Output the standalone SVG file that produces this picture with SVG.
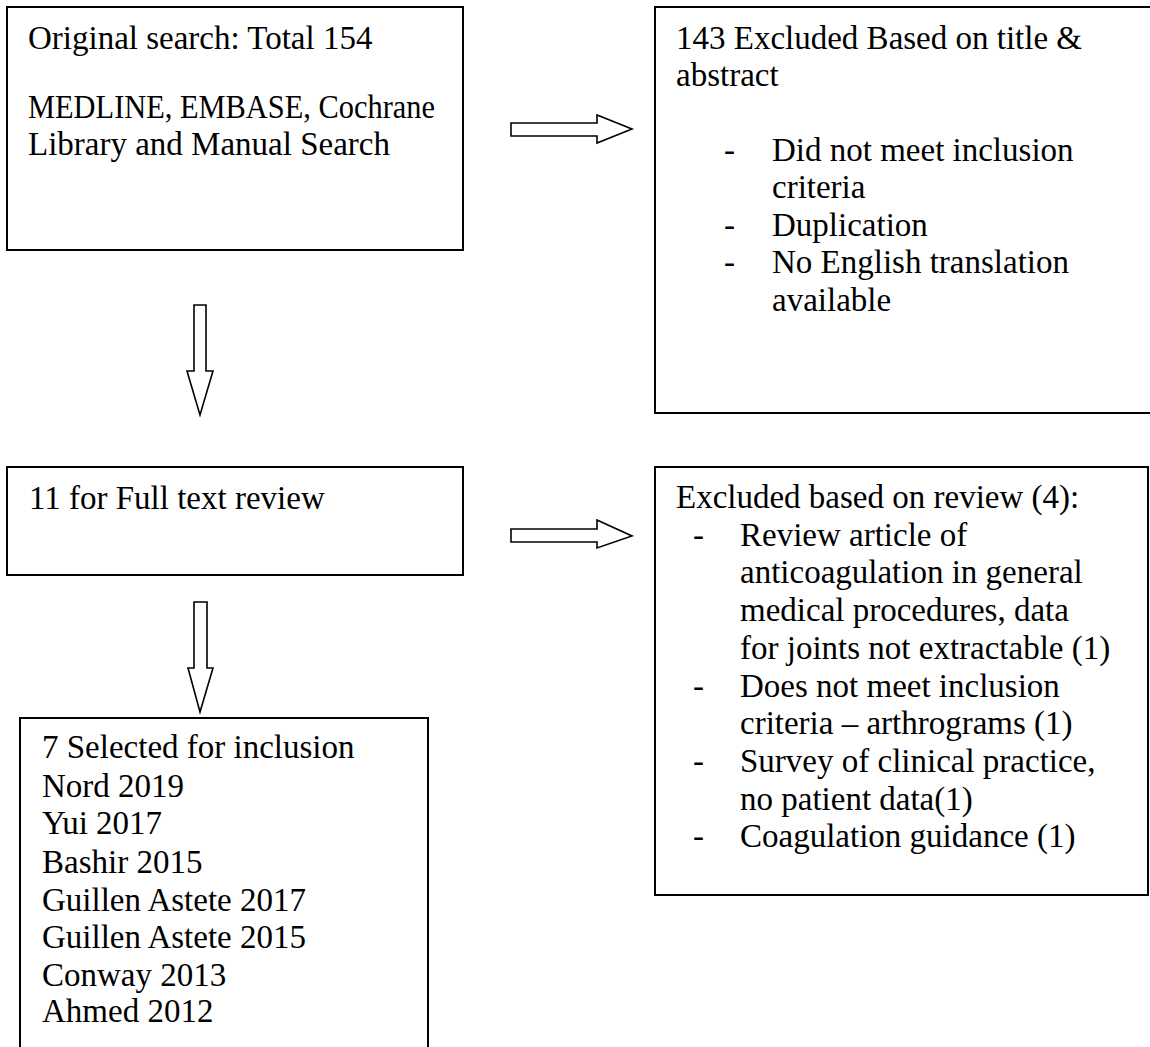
<svg xmlns="http://www.w3.org/2000/svg" width="1150" height="1047" viewBox="0 0 1150 1047">
<style>
.box{fill:#fff;stroke:#000;stroke-width:2}
.arr{fill:#fff;stroke:#000;stroke-width:1.6;stroke-linejoin:miter}
text{font-family:"Liberation Serif","Times New Roman",serif;font-size:33px;fill:#000}
</style>
<rect width="1150" height="1047" fill="#fff"/>
<g id="connectors">
<polygon class="arr" points="511,123 597,123 597,115 632,129 597,143 597,136 511,136"/>
<polygon class="arr" points="194,305 206,305 206,371 213,371 200,415 187,371 194,371"/>
<polygon class="arr" points="511,529 597,529 597,520 632,536 597,548 597,542 511,542"/>
<polygon class="arr" points="194,602 207,602 207,668 213,668 200,712 188,668 194,668"/>
</g>
<g id="n1">
<rect class="box" x="7" y="7" width="456" height="243"/>
<text x="28" y="49">Original search: Total 154</text>
<text x="28" y="118" textLength="407" lengthAdjust="spacingAndGlyphs">MEDLINE, EMBASE, Cochrane</text>
<text x="28" y="155">Library and Manual Search</text>
</g>
<g id="n2">
<rect class="box" x="655" y="7" width="500" height="406"/>
<text x="676" y="49">143 Excluded Based on title &amp;</text>
<text x="676" y="86">abstract</text>
<text x="724" y="161">-</text><text x="772" y="161">Did not meet inclusion</text>
<text x="772" y="198">criteria</text>
<text x="724" y="236">-</text><text x="772" y="236">Duplication</text>
<text x="724" y="273">-</text><text x="772" y="273">No English translation</text>
<text x="772" y="311">available</text>
</g>
<g id="n3">
<rect class="box" x="7" y="467" width="456" height="108"/>
<text x="29" y="509">11 for Full text review</text>
</g>
<g id="n4">
<rect class="box" x="655" y="467" width="493" height="428"/>
<text x="676" y="508">Excluded based on review (4):</text>
<text x="693" y="546">-</text><text x="740" y="546">Review article of</text>
<text x="740" y="583">anticoagulation in general</text>
<text x="740" y="621">medical procedures, data</text>
<text x="740" y="659">for joints not extractable (1)</text>
<text x="693" y="697">-</text><text x="740" y="697">Does not meet inclusion</text>
<text x="740" y="734">criteria – arthrograms (1)</text>
<text x="693" y="772">-</text><text x="740" y="772">Survey of clinical practice,</text>
<text x="740" y="810">no patient data(1)</text>
<text x="693" y="847">-</text><text x="740" y="847">Coagulation guidance (1)</text>
</g>
<g id="n5">
<rect class="box" x="20" y="718" width="408" height="360"/>
<text x="42" y="758">7 Selected for inclusion</text>
<text x="42" y="797">Nord 2019</text>
<text x="42" y="834">Yui 2017</text>
<text x="42" y="873">Bashir 2015</text>
<text x="42" y="911">Guillen Astete 2017</text>
<text x="42" y="948">Guillen Astete 2015</text>
<text x="42" y="986">Conway 2013</text>
<text x="42" y="1022">Ahmed 2012</text>
</g>
</svg>
